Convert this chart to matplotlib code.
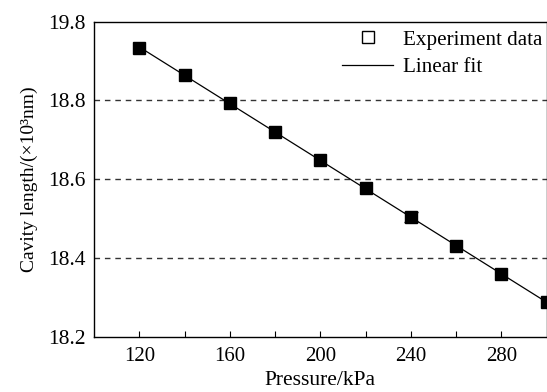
import numpy as np
import matplotlib
matplotlib.use("Agg")
import matplotlib.pyplot as plt
from matplotlib.lines import Line2D

plt.rcParams['font.family'] = ['Liberation Serif', 'DejaVu Serif']

# data
pressure = [120, 140, 160, 180, 200, 220, 240, 260, 280, 300]
cavity = [18.934, 18.864, 18.793, 18.719, 18.648, 18.577, 18.505, 18.431, 18.360, 18.288]
err_240 = 0.012
ytick_vals = [18.2, 18.4, 18.6, 18.8, 19.0]
ytick_labels = ["18.2", "18.4", "18.6", "18.8", "19.8"]
xtick_vals = [120, 160, 200, 240, 280]


def main():
    fig = plt.figure(figsize=(5.47, 3.92), dpi=100)
    ax = fig.add_axes([0.172, 0.140, 0.8275, 0.805])

    # linear fit
    k, b = np.polyfit(pressure, cavity, 1)
    xf = np.array([pressure[0], pressure[-1]])
    ax.plot(xf, k * xf + b, color="black", lw=0.9, zorder=2)

    ax.plot(pressure, cavity, linestyle="none", marker="s", markersize=8.5,
            color="black", zorder=3)
    i = pressure.index(240)
    ax.errorbar([pressure[i]], [cavity[i]], yerr=[err_240], fmt="none",
                ecolor="black", elinewidth=0.8, capsize=5, zorder=2)

    for yv in [18.4, 18.6, 18.8]:
        ax.axhline(yv, color="#333333", lw=1.0, ls=(0, (4, 3.5)), zorder=1)

    ax.set_xlim(100, 300)
    ax.set_ylim(18.2, 19.0)
    ax.set_xticks(xtick_vals)
    ax.set_xticks([140, 180, 220, 260], minor=True)
    ax.set_yticks(ytick_vals)
    ax.set_yticklabels(ytick_labels)
    ax.tick_params(axis="x", which="both", direction="in", length=4, width=0.8,
                   labelsize=15, pad=7)
    ax.tick_params(axis="y", length=0, labelsize=15.5, pad=6)
    for s in ax.spines.values():
        s.set_linewidth(1.0)

    ax.set_xlabel("Pressure/kPa", fontsize=15.5, labelpad=4)
    ax.set_ylabel("Cavity length/(×10³nm)", fontsize=14, labelpad=7)

    handles = [
        Line2D([], [], linestyle="none", marker="s", markersize=8,
               markerfacecolor="white", markeredgecolor="black", markeredgewidth=1),
        Line2D([], [], color="black", lw=0.9),
    ]
    ax.legend(handles, ["Experiment data", "Linear fit"], loc="upper right",
              frameon=False, fontsize=15.2, handlelength=2.4, handletextpad=0.45,
              borderaxespad=0.0, labelspacing=0.35, bbox_to_anchor=(1.008, 1.0))

    fig.savefig("out.png", dpi=100)


if __name__ == '__main__':
    main()
